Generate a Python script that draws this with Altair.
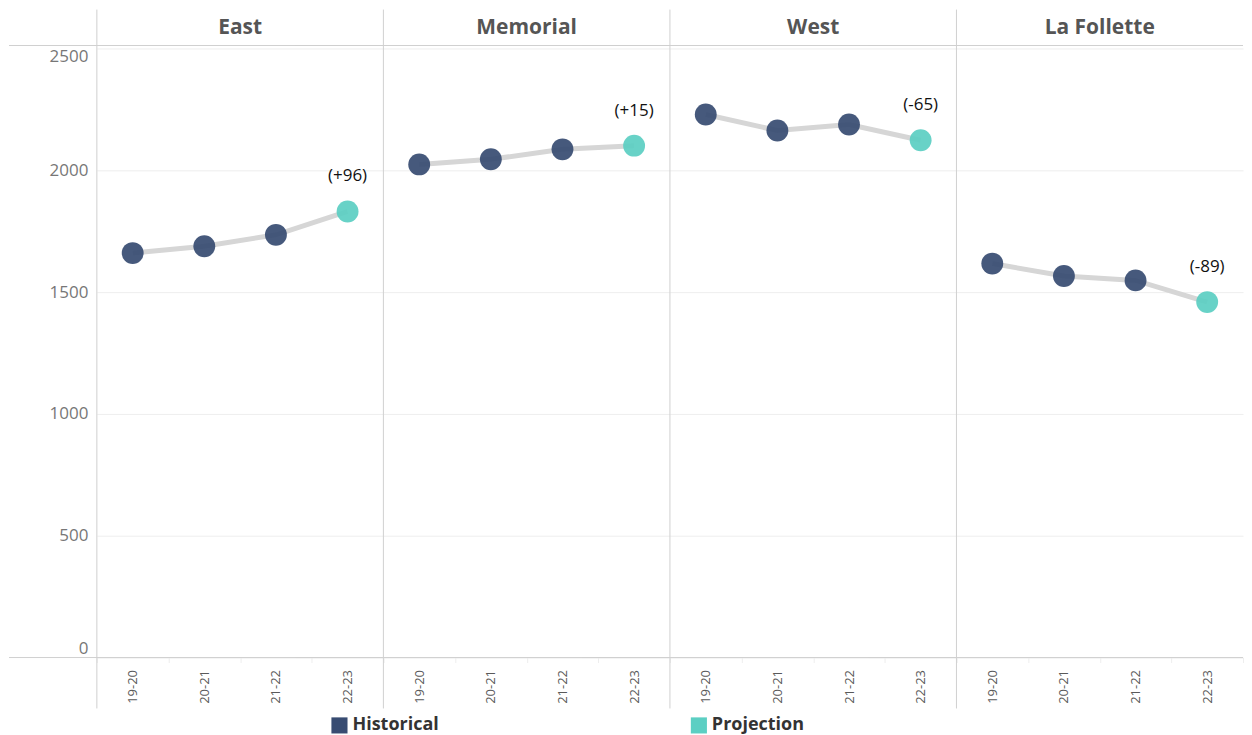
import altair as alt
import pandas as pd

schools = ["East", "Memorial", "West", "La Follette"]
years = ["19-20", "20-21", "21-22", "22-23"]
east = [1660, 1688, 1735, 1831]
memorial = [2024, 2045, 2086, 2101]
west = [2229, 2163, 2188, 2123]
lafollette = [1617, 1566, 1548, 1459]
series_types = ["Historical", "Historical", "Historical", "Projection"]
change_labels = ["(+96)", "(+15)", "(-65)", "(-89)"]
y_ticks = [0, 500, 1000, 1500, 2000, 2500]
type_domain = ["Historical", "Projection"]
type_colors = ["#384c72", "#5ccfc3"]

rows = []
for school, vals, lab in zip(schools, [east, memorial, west, lafollette], change_labels):
    for yr, v, t in zip(years, vals, series_types):
        rows.append({"School": school, "Year": yr, "Enrollment": v, "Type": t,
                     "Label": lab if t == "Projection" else ""})
df = pd.DataFrame(rows)

W = 287
H = 613
FONT = "Open Sans"

x_enc = alt.X(
    "Year:N", sort=years, title=None,
    scale=alt.Scale(type="band", paddingInner=0, paddingOuter=0),
    axis=alt.Axis(labelAngle=270, labelFontSize=13, labelColor="#5a5a5a", labelFont=FONT,
                  labelPadding=7, domain=False, ticks=True, tickBand="extent",
                  tickColor="#eeeeee", tickSize=5, grid=False),
)
y_enc = alt.Y(
    "Enrollment:Q", title=None,
    scale=alt.Scale(domain=[0, 2512], nice=False, zero=True),
    axis=alt.Axis(values=y_ticks, format="d", labelFontSize=17, labelColor="#777",
                  labelFont=FONT, labelPadding=9, ticks=False, domain=False,
                  gridColor="#eeeeee", labelFlush=5),
)

base = alt.Chart().encode(x=x_enc, y=y_enc)

first = alt.Chart().transform_filter(alt.datum.Year == "19-20")
vline = first.mark_rule(color="#d0d0d0", strokeWidth=1).encode(
    x=alt.value(0), y=alt.value(-36), y2=alt.value(H + 51))
top_line = first.mark_rule(color="#d0d0d0", strokeWidth=1).encode(
    y=alt.value(0), x=alt.value(-88), x2=alt.value(W))
bottom_line = first.mark_rule(color="#d0d0d0", strokeWidth=1).encode(
    y=alt.value(H), x=alt.value(-88), x2=alt.value(W))

line = base.mark_line(color="#d6d6d6", strokeWidth=5).encode(detail="School:N")
points = base.mark_circle(size=480, opacity=0.93).encode(
    color=alt.Color(
        "Type:N",
        scale=alt.Scale(domain=type_domain, range=type_colors),
        legend=alt.Legend(title=None, orient="none", legendX=234, legendY=672,
                          direction="horizontal", symbolType="square", symbolSize=260,
                          symbolOpacity=1, labelFontSize=18, labelFontWeight="bold",
                          labelColor="#333", labelFont=FONT, columnPadding=251),
    )
)
text = base.mark_text(dy=-35, fontSize=17, color="#111", font=FONT).encode(text="Label:N")

layered = alt.layer(vline, top_line, bottom_line, line, points, text, data=df).properties(
    width=W, height=H)

chart = layered.facet(
    column=alt.Column(
        "School:N", sort=schools,
        header=alt.Header(title=None, labelFontSize=21, labelFontWeight="bold",
                          labelColor="#555", labelFont=FONT, labelPadding=8),
    ),
    spacing=0,
    bounds="flush",
).properties(
    padding={"left": 0, "top": 0, "right": 0, "bottom": 0}
).configure_view(stroke=None)

chart.save("out.html", embed_options={"renderer": "svg", "actions": False})
